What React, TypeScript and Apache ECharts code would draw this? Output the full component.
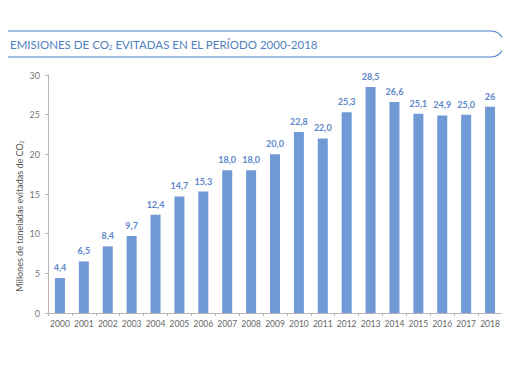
import React, { useEffect, useRef } from "react";
import * as echarts from "echarts";

const years = ["2000","2001","2002","2003","2004","2005","2006","2007","2008","2009","2010","2011","2012","2013","2014","2015","2016","2017","2018"];
const values = [4.4, 6.5, 8.4, 9.7, 12.4, 14.7, 15.3, 18.0, 18.0, 20.0, 22.8, 22.0, 25.3, 28.5, 26.6, 25.1, 24.9, 25.0, 26];
const labels = ["4,4","6,5","8,4","9,7","12,4","14,7","15,3","18,0","18,0","20,0","22,8","22,0","25,3","28,5","26,6","25,1","24,9","25,0","26"];

export default function App() {
  const ref = useRef<HTMLDivElement>(null);
  useEffect(() => {
    const chart = echarts.init(ref.current!, null, { renderer: "svg" });
    const font = "Lato, 'Open Sans', sans-serif";
    chart.setOption({
      animation: false,
      textStyle: { fontFamily: font },
      graphic: [
        {
          type: "rect",
          shape: { x: -4, y: 31, width: 508, height: 26, r: [0, 13, 13, 0] },
          style: { fill: "none", stroke: "#4d7fc9", lineWidth: 1.2 },
        },
        {
          type: "text",
          x: 10,
          y: 44,
          style: {
            text: "EMISIONES DE CO{sub|2} EVITADAS EN EL PERÍODO 2000-2018",
            fill: "#4f7fbf",
            fontSize: 11.5,
            fontFamily: font,
            verticalAlign: "middle",
            rich: {
              sub: { fontSize: 6.5, fill: "#4f7fbf", padding: [7, 0, 0, 0], verticalAlign: "bottom" },
            },
          },
        },
        {
          type: "text",
          x: 19,
          y: 216,
          rotation: Math.PI / 2,
          style: {
            text: "Millones de toneladas evitadas de CO{sub|2}",
            fill: "#555",
            fontSize: 9,
            fontFamily: font,
            align: "center",
            verticalAlign: "middle",
            rich: {
              sub: { fontSize: 5.5, fill: "#555", padding: [5, 0, 0, 0], verticalAlign: "bottom" },
            },
          },
        },
      ],
      grid: { left: 48, right: 8, top: 75, bottom: 69, containLabel: false },
      xAxis: {
        type: "category",
        data: years,
        axisLine: { lineStyle: { color: "#b5b5b5", width: 1 } },
        axisTick: { show: true, lineStyle: { color: "#b5b5b5" }, length: 3 },
        axisLabel: { color: "#666", fontSize: 8.5, margin: 6, interval: 0 },
      },
      yAxis: {
        type: "value",
        min: 0,
        max: 30,
        interval: 5,
        splitLine: { show: false },
        axisLine: { show: true, lineStyle: { color: "#b5b5b5" } },
        axisTick: { show: true, length: 3, lineStyle: { color: "#b5b5b5" } },
        axisLabel: { color: "#777", fontSize: 9, margin: 8 },
      },
      series: [
        {
          type: "bar",
          data: values,
          barWidth: 10,
          itemStyle: { color: "#6f9ad6" },
          label: {
            show: true,
            position: "top",
            distance: 6,
            color: "#5e87c9",
            fontSize: 9,
            fontWeight: "bold",
            formatter: (p: any) => labels[p.dataIndex],
          },
        },
      ],
    });
    return () => chart.dispose();
  }, []);
  return <div ref={ref} style={{ width: 510, height: 382, margin: -8 }} />;
}
